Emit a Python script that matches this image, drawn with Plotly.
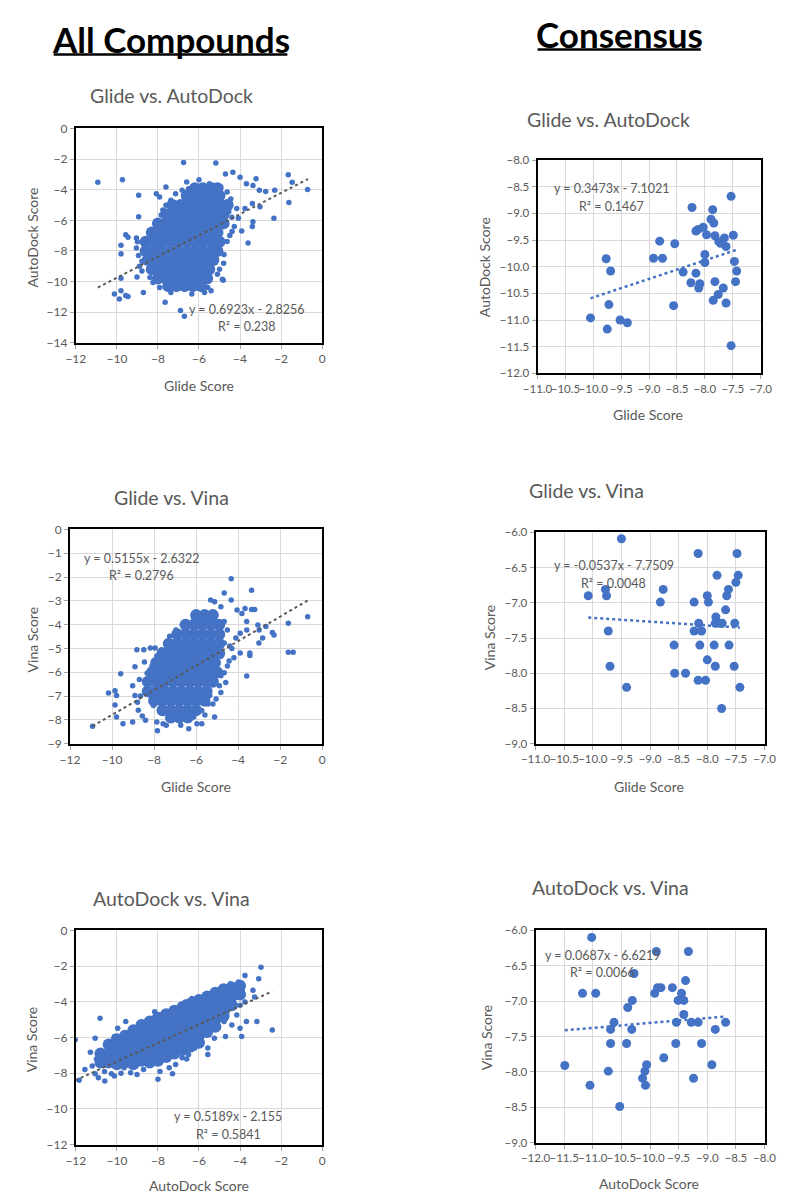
import plotly.graph_objects as go

# ---------------- DATA ----------------
# All compounds: Glide vs AutoDock -- individual (sparse) points
tl_outer = [(-10.93,-3.51),(-9.73,-3.35),(-8.94,-4.37),(-8.94,-5.76),(-9.80,-7.63),(-9.80,-8.19),
            (-9.57,-6.95),(-9.46,-7.10),(-9.05,-7.16),(-9.05,-7.81),(-9.02,-9.70),(-9.80,-9.78),
            (-10.12,-10.82),(-9.88,-11.14),(-9.80,-10.60),(-9.57,-10.92),(-9.46,-10.97),(-8.71,-10.71),
            (-7.65,-11.35),(-6.90,-11.89),(-6.71,-12.26),(-6.75,-2.22),(-5.18,-2.26),(-6.35,-4.37),
            (-7.61,-3.83),(-8.08,-4.26),(-7.92,-4.47),(-4.71,-2.97),(-4.35,-2.86),(-4.00,-3.18),
            (-3.22,-3.29),(-3.69,-3.61),(-3.37,-3.72),(-3.06,-4.04),(-2.75,-4.11),(-2.31,-4.04),
            (-1.65,-3.03),(-1.46,-3.51),(-0.71,-3.98),(-1.62,-4.84),(-2.35,-5.87),(-3.03,-5.12),
            (-3.40,-4.90),(-3.61,-7.48),(-3.40,-6.41),(-3.37,-6.09),(-3.92,-6.69),(-4.28,-6.41),
            (-4.08,-5.87),(-3.76,-5.23),(-4.16,-5.23),(-4.39,-6.73),(-4.63,-7.38),(-4.78,-8.24),
            (-4.86,-9.85),(-5.10,-9.53),(-4.82,-9.91),(-5.57,-10.39),(-5.88,-9.96),(-5.41,-10.60),
            (-5.73,-10.71),(-6.27,-10.39),(-6.35,-10.82),(-7.37,-10.71),(-7.22,-10.39),(-7.92,-10.39),
            (-8.24,-10.06),(-8.39,-9.74),(-8.78,-9.31),(-8.78,-8.67),(-8.71,-8.02),(-8.55,-7.48),
            (-8.39,-6.73),(-8.08,-6.41),(-8.00,-6.09),(-7.84,-5.66),(-7.76,-5.33),(-7.61,-5.01),
            (-7.37,-4.69),(-7.14,-4.26),(-6.82,-4.04),(-6.51,-3.94),(-5.88,-3.72),(-5.49,-3.61),
            (-5.25,-3.72),(-4.94,-3.83),(-4.63,-4.15),(-4.63,-4.80),(-4.55,-5.44),(-4.71,-6.09),
            (-9.00,-7.40),(-8.95,-8.30),(-8.90,-9.00),(-4.45,-4.60),(-4.40,-5.80),(-4.50,-7.00),
            (-6.60,-3.50),(-6.00,-3.35),(-4.80,-8.80),(-5.00,-9.20)]
# dense core, rows of (AutoDock score, Glide scores)
tl_core_rows = [(-3.9,[-6.2,-5.8,-5.4,-5.1]),
                (-4.4,[-6.6,-6.2,-5.8,-5.4,-5.0]),
                (-5.0,[-7.3,-6.9,-6.5,-6.1,-5.7,-5.3,-4.9,-4.6]),
                (-5.6,[-7.6,-7.2,-6.8,-6.4,-6.0,-5.6,-5.2,-4.8]),
                (-6.2,[-8.0,-7.6,-7.2,-6.8,-6.4,-6.0,-5.6,-5.2,-4.8]),
                (-6.8,[-8.3,-7.9,-7.5,-7.1,-6.7,-6.3,-5.9,-5.5,-5.1]),
                (-7.4,[-8.6,-8.2,-7.8,-7.4,-7.0,-6.6,-6.2,-5.8,-5.4,-5.0]),
                (-8.0,[-8.6,-8.2,-7.8,-7.4,-7.0,-6.6,-6.2,-5.8,-5.4,-5.1]),
                (-8.6,[-8.5,-8.1,-7.7,-7.3,-6.9,-6.5,-6.1,-5.7,-5.3]),
                (-9.2,[-8.3,-7.9,-7.5,-7.1,-6.7,-6.3,-5.9,-5.5]),
                (-9.8,[-8.0,-7.6,-7.2,-6.8,-6.4,-6.0,-5.6]),
                (-10.3,[-7.5,-7.1,-6.7,-6.3,-5.9])]

# All compounds: Glide vs Vina
ml_outer = [(-10.93,-8.27),(-10.17,-6.87),(-9.86,-6.78),(-9.79,-6.98),(-9.86,-7.37),(-9.79,-7.88),(-9.59,-6.06),
            (-9.48,-8.16),(-9.02,-8.09),(-9.02,-6.57),(-8.91,-5.77),(-8.82,-5.05),(-8.91,-6.98),
            (-8.79,-7.26),(-8.56,-7.84),(-8.49,-5.05),(-8.46,-5.57),(-8.33,-6.04),(-8.41,-8.02),
            (-8.18,-4.98),(-7.95,-4.98),(-7.87,-8.09),(-7.84,-8.46),(-7.57,-8.16),(-7.42,-8.23),
            (-6.35,-8.37),(-6.73,-8.23),(-5.96,-8.16),(-5.73,-8.16),(-5.58,-7.79),(-5.12,-7.88),
            (-5.20,-7.33),(-5.35,-6.98),(-4.82,-6.85),(-4.59,-6.43),(-4.66,-6.02),(-4.51,-5.74),
            (-4.43,-5.53),(-4.20,-5.39),(-3.90,-5.19),(-3.59,-6.16),(-3.44,-5.30),(-3.44,-5.19),
            (-4.11,-4.56),(-3.90,-4.36),(-3.59,-4.22),(-3.59,-3.87),(-3.82,-3.53),(-4.05,-3.39),
            (-3.67,-3.32),(-3.36,-3.36),(-3.21,-3.36),(-3.36,-2.56),(-4.33,-2.07),(-4.66,-2.67),
            (-4.33,-2.97),(-5.31,-2.97),(-5.12,-3.04),(-4.82,-3.25),(-5.43,-3.53),(-5.73,-3.73),
            (-6.12,-3.73),(-6.65,-4.01),(-6.96,-4.22),(-7.26,-4.49),(-7.42,-4.77),(-7.65,-5.05),
            (-7.87,-5.32),(-8.10,-5.74),(-8.26,-6.43),(-8.18,-6.98),(-8.03,-7.40),(-7.72,-7.54),
            (-7.26,-7.81),(-6.88,-7.95),(-6.42,-7.98),(-6.12,-7.88),(-5.73,-7.61),(-5.43,-7.33),
            (-5.05,-7.12),(-4.89,-6.57),(-4.82,-6.15),(-4.82,-5.33),(-4.66,-4.77),(-4.51,-4.22),
            (-4.66,-3.87),(-5.28,-3.73),(-3.06,-4.01),(-2.68,-4.08),(-2.37,-4.33),(-2.29,-4.43),
            (-3.01,-4.77),(-2.83,-4.56),(-1.61,-3.94),(-1.61,-5.16),(-1.38,-5.16),(-0.69,-3.67),
            (-3.00,-4.22),(-8.70,-6.30),(-8.65,-7.00),(-8.75,-7.60),(-4.40,-4.90),(-4.30,-5.00)]
ml_core_rows = [(-3.6,[-6.0,-5.6,-5.2]),
                (-4.0,[-6.5,-6.1,-5.7,-5.3,-4.9]),
                (-4.4,[-6.9,-6.5,-6.1,-5.7,-5.3,-4.9]),
                (-4.8,[-7.3,-6.9,-6.5,-6.1,-5.7,-5.3,-4.9]),
                (-5.2,[-7.6,-7.2,-6.8,-6.4,-6.0,-5.6,-5.2,-4.9]),
                (-5.6,[-7.9,-7.5,-7.1,-6.7,-6.3,-5.9,-5.5,-5.1]),
                (-6.0,[-8.1,-7.7,-7.3,-6.9,-6.5,-6.1,-5.7,-5.3,-5.0]),
                (-6.4,[-8.3,-7.9,-7.5,-7.1,-6.7,-6.3,-5.9,-5.5,-5.2]),
                (-6.8,[-8.3,-7.9,-7.5,-7.1,-6.7,-6.3,-5.9,-5.5]),
                (-7.2,[-8.0,-7.6,-7.2,-6.8,-6.4,-6.0,-5.6]),
                (-7.6,[-7.6,-7.2,-6.8,-6.4,-6.0]),
                (-7.9,[-7.2,-6.8,-6.4])]

# All compounds: AutoDock vs Vina
bl_outer = [(-12.03,-6.13),(-11.56,-7.79),(-11.84,-8.40),(-11.29,-6.83),(-11.06,-6.04),(-10.82,-4.93),
            (-11.06,-8.03),(-10.90,-8.25),(-10.59,-8.44),(-10.82,-7.33),(-10.75,-6.83),(-10.27,-8.03),
            (-10.12,-8.16),(-10.04,-7.51),(-10.27,-6.41),(-10.12,-5.94),(-9.57,-5.11),(-9.25,-5.48),
            (-9.33,-7.97),(-9.02,-8.07),(-8.55,-5.21),(-8.24,-4.93),(-8.16,-4.56),(-7.61,-4.65),
            (-7.29,-4.56),(-8.00,-8.34),(-7.45,-7.70),(-7.14,-7.51),(-7.29,-8.03),(-6.82,-7.14),
            (-6.51,-6.96),(-6.20,-6.59),(-5.57,-6.59),(-5.57,-6.96),(-5.88,-6.22),(-5.25,-6.04),
            (-4.71,-5.94),(-4.78,-5.11),(-6.67,-4.01),(-6.35,-3.82),(-5.57,-3.64),(-4.94,-3.36),
            (-4.47,-2.99),(-4.08,-2.90),(-3.76,-2.53),(-2.98,-2.07),(-3.09,-2.71),(-3.37,-3.36),
            (-3.29,-3.73),(-4.08,-3.64),(-4.00,-4.19),(-4.16,-4.74),(-4.00,-5.48),(-3.92,-5.94),
            (-3.69,-5.11),(-3.18,-5.11),(-3.76,-4.01),(-2.43,-5.58),(-4.24,-4.19),(-4.63,-4.56),
            (-4.94,-4.93),(-5.33,-5.48),(-6.04,-6.04),(-6.82,-6.41),(-7.61,-6.78),(-8.39,-7.33),
            (-9.02,-7.51),(-9.65,-7.70),(-9.96,-5.48),(-8.86,-5.30),(-8.08,-5.11),(-6.98,-4.38),
            (-6.20,-4.01),(-5.25,-3.73),(-11.00,-7.20),(-11.20,-7.60),(-10.60,-7.90),(-9.80,-8.00),
            (-8.70,-7.80),(-7.90,-7.90),(-6.60,-7.20),(-4.40,-5.30),(-3.90,-3.30)]
# dense core, columns of (AutoDock score, Vina scores)
bl_core_cols = [(-10.8,[-6.9,-7.4]),
                (-10.4,[-6.4,-6.9,-7.4]),
                (-10.0,[-6.1,-6.6,-7.1,-7.5]),
                (-9.6,[-5.9,-6.4,-6.9,-7.4]),
                (-9.2,[-5.6,-6.1,-6.6,-7.1,-7.5]),
                (-8.8,[-5.3,-5.8,-6.3,-6.8,-7.3]),
                (-8.4,[-5.1,-5.6,-6.1,-6.6,-7.1,-7.4]),
                (-8.0,[-4.9,-5.4,-5.9,-6.4,-6.9,-7.3]),
                (-7.6,[-4.7,-5.2,-5.7,-6.2,-6.7,-7.1]),
                (-7.2,[-4.5,-5.0,-5.5,-6.0,-6.5,-6.9]),
                (-6.8,[-4.3,-4.8,-5.3,-5.8,-6.3,-6.7]),
                (-6.4,[-4.1,-4.6,-5.1,-5.6,-6.1,-6.5]),
                (-6.0,[-3.9,-4.4,-4.9,-5.4,-5.9,-6.3]),
                (-5.6,[-3.7,-4.2,-4.7,-5.2,-5.7]),
                (-5.2,[-3.5,-4.0,-4.5,-5.0,-5.4]),
                (-4.8,[-3.3,-3.8,-4.3,-4.8]),
                (-4.4,[-3.2,-3.7,-4.2]),
                (-4.0,[-3.1,-3.6])]

# Consensus: Glide vs AutoDock
tr_pts = [(-10.05,-10.96),(-9.77,-9.85),(-9.69,-10.08),(-9.72,-10.71),(-9.75,-11.17),(-9.52,-11.00),
          (-9.39,-11.05),(-8.92,-9.84),(-8.81,-9.52),(-8.76,-9.84),(-8.54,-9.57),(-8.56,-10.73),
          (-8.39,-10.10),(-8.23,-8.89),(-8.25,-10.30),(-8.16,-9.33),(-8.12,-9.30),(-8.16,-10.12),
          (-8.09,-10.32),(-8.11,-10.40),(-8.03,-9.26),(-7.97,-9.40),(-8.00,-9.77),(-8.00,-9.92),
          (-7.86,-8.93),(-7.89,-9.11),(-7.84,-9.18),(-7.82,-9.42),(-7.75,-9.53),(-7.72,-9.56),
          (-7.65,-9.46),(-7.62,-9.62),(-7.82,-10.28),(-7.85,-10.63),(-7.76,-10.52),(-7.67,-10.40),
          (-7.62,-10.68),(-7.53,-8.68),(-7.49,-9.41),(-7.47,-9.90),(-7.43,-10.08),(-7.45,-10.28),
          (-7.53,-11.48)]
# Consensus: Glide vs Vina
mr_pts = [(-10.08,-6.90),(-9.78,-6.81),(-9.76,-6.90),(-9.73,-7.40),(-9.70,-7.90),(-9.50,-6.09),
          (-9.41,-8.20),(-8.82,-6.99),(-8.77,-6.81),(-8.58,-7.60),(-8.57,-8.00),(-8.38,-8.00),
          (-8.23,-6.99),(-8.23,-7.40),(-8.16,-6.30),(-8.15,-7.29),(-8.13,-7.60),(-8.10,-7.40),
          (-8.16,-8.10),(-8.03,-8.10),(-8.00,-6.90),(-7.98,-6.99),(-8.00,-7.81),(-7.83,-6.61),
          (-7.85,-7.20),(-7.86,-7.29),(-7.88,-7.60),(-7.86,-7.90),(-7.74,-7.29),(-7.80,-7.29),
          (-7.75,-8.50),(-7.68,-7.10),(-7.66,-6.90),(-7.63,-6.81),(-7.62,-7.60),(-7.53,-7.90),
          (-7.52,-7.29),(-7.50,-6.71),(-7.48,-6.30),(-7.46,-6.61),(-7.43,-8.20)]
# Consensus: AutoDock vs Vina
br_pts = [(-11.49,-7.91),(-11.18,-6.89),(-11.05,-8.19),(-11.02,-6.10),(-10.95,-6.89),(-10.73,-7.99),
          (-10.69,-7.40),(-10.69,-7.60),(-10.63,-7.30),(-10.53,-8.49),(-10.41,-7.60),(-10.39,-7.09),
          (-10.32,-7.40),(-10.31,-6.99),(-10.28,-6.61),(-10.13,-8.09),(-10.09,-7.99),(-10.08,-8.19),
          (-10.06,-7.90),(-9.92,-6.89),(-9.89,-6.30),(-9.87,-6.81),(-9.81,-6.81),(-9.76,-7.80),
          (-9.61,-6.81),(-9.55,-7.60),(-9.54,-7.30),(-9.51,-6.99),(-9.45,-6.89),(-9.41,-6.99),
          (-9.41,-7.19),(-9.38,-6.71),(-9.33,-6.30),(-9.28,-7.30),(-9.24,-8.09),(-9.16,-7.30),
          (-9.10,-7.60),(-8.92,-7.90),(-8.86,-7.40),(-8.68,-7.30)]

# trendline coefficients (slope, intercept, R^2) as printed on the chart
trend_slope = [0.6923, 0.5155, 0.5189, 0.3473, -0.0537, 0.0687]
trend_icpt = [-2.8256, -2.6322, -2.155, -7.1021, -7.7509, -6.6219]
trend_r2 = ["0.238", "0.2796", "0.5841", "0.1467", "0.0048", "0.0066"]

titles = ["Glide vs. AutoDock", "Glide vs. Vina", "AutoDock vs. Vina",
          "Glide vs. AutoDock", "Glide vs. Vina", "AutoDock vs. Vina"]
x_titles = ["Glide Score", "Glide Score", "AutoDock Score", "Glide Score", "Glide Score", "AutoDock Score"]
y_titles = ["AutoDock Score", "Vina Score", "Vina Score", "AutoDock Score", "Vina Score", "Vina Score"]
headers = ["All Compounds", "Consensus"]

# ---------------- helpers ----------------
def unzip(pairs):
    return [p[0] for p in pairs], [p[1] for p in pairs]

def rows_to_xy(rows):
    xs, ys = [], []
    for yv, xl in rows:
        for xv in xl:
            xs.append(xv); ys.append(yv)
    return xs, ys

def cols_to_xy(cols):
    xs, ys = [], []
    for xv, yl in cols:
        for yv in yl:
            xs.append(xv); ys.append(yv)
    return xs, ys

W, H = 791, 1200
BLUE = '#4472C4'
GREY = '#595959'
GRIDC = '#D9D9D9'
FONT = 'Lato, Carlito, Calibri, sans-serif'

# layout: pixel boxes (x0, x1, y0, y1), axis setup
panels = [
    dict(box=(63, 318, 122, 339), xr=[-12, 0], xd=2, yr=[-14, 0], yd=2, fmt='', ts=12),
    dict(box=(57, 318, 528, 745), xr=[-12, 0], xd=2, yr=[-9, 0], yd=1, fmt='', ts=12),
    dict(box=(63, 318, 934, 1151), xr=[-12, 0], xd=2, yr=[-12, 0], yd=2, fmt='', ts=12),
    dict(box=(541, 772, 154, 370), xr=[-11, -7], xd=0.5, yr=[-12, -8], yd=0.5, fmt='.1f', ts=11.5),
    dict(box=(539, 776, 531, 745), xr=[-11, -7], xd=0.5, yr=[-9, -6], yd=0.5, fmt='.1f', ts=11.5),
    dict(box=(539, 776, 934, 1149), xr=[-12, -8], xd=0.5, yr=[-9, -6], yd=0.5, fmt='.1f', ts=11.5),
]
title_pos = [(162, 89), (162, 496), (162, 902), (614, 113), (592, 489), (617, 891)]
xt_pos = [(190, 382), (187, 788), (191, 1192), (655, 412), (656, 788), (656, 1190)]
yt_pos = [(18, 232), (18, 640), (18, 1045), (486, 262), (491, 638), (489, 1043)]
eq_pos = [(240, 305, 323), (131, 557, 575), (221, 1123, 1141),
          (618, 183, 201), (620, 565, 583), (608, 959, 977)]

fig = go.Figure()

tl_ox, tl_oy = unzip(tl_outer); tl_cx, tl_cy = rows_to_xy(tl_core_rows)
ml_ox, ml_oy = unzip(ml_outer); ml_cx, ml_cy = rows_to_xy(ml_core_rows)
bl_ox, bl_oy = unzip(bl_outer); bl_cx, bl_cy = cols_to_xy(bl_core_cols)
left_sets = [(tl_ox, tl_oy, tl_cx, tl_cy), (ml_ox, ml_oy, ml_cx, ml_cy), (bl_ox, bl_oy, bl_cx, bl_cy)]
right_sets = [unzip(tr_pts), unzip(mr_pts), unzip(br_pts)]

all_glide = tl_ox + tl_cx + ml_ox + ml_cx

for i in range(6):
    k = i + 1
    xa = 'x' if k == 1 else f'x{k}'
    ya = 'y' if k == 1 else f'y{k}'
    if i < 3:
        ox, oy, cx, cy = left_sets[i]
        fig.add_trace(go.Scatter(x=cx, y=cy, mode='markers', xaxis=xa, yaxis=ya,
                                 marker=dict(color=BLUE, size=12, line=dict(width=0)),
                                 showlegend=False, hoverinfo='skip'))
        fig.add_trace(go.Scatter(x=ox, y=oy, mode='markers', xaxis=xa, yaxis=ya,
                                 marker=dict(color=BLUE, size=5.5, line=dict(width=0)),
                                 showlegend=False))
        xs_all = ox + cx
        if i in (0, 1):
            xs_all = all_glide
        lcol, lw = GREY, 2
    else:
        px, py = right_sets[i - 3]
        fig.add_trace(go.Scatter(x=px, y=py, mode='markers', xaxis=xa, yaxis=ya,
                                 marker=dict(color=BLUE, size=9, line=dict(width=0)),
                                 showlegend=False))
        xs_all = px
        lcol, lw = BLUE, 2.5
    x0, x1 = min(xs_all), max(xs_all)
    fig.add_trace(go.Scatter(x=[x0, x1],
                             y=[trend_slope[i] * x0 + trend_icpt[i], trend_slope[i] * x1 + trend_icpt[i]],
                             mode='lines', xaxis=xa, yaxis=ya,
                             line=dict(color=lcol, width=lw, dash='dot'),
                             showlegend=False, hoverinfo='skip'))

layout = dict(width=W, height=H, margin=dict(l=0, r=0, t=0, b=0),
              paper_bgcolor='white', plot_bgcolor='white', showlegend=False,
              font=dict(family=FONT, color=GREY, size=12))
for i, p in enumerate(panels):
    k = i + 1
    x0, x1, y0, y1 = p['box']
    axcommon = dict(showgrid=True, gridcolor=GRIDC, gridwidth=1, zeroline=False,
                    showline=True, linecolor='black', linewidth=2, mirror=True,
                    ticks='outside', ticklen=4, tickcolor='#A6A6A6', tickangle=0,
                    tickfont=dict(family=FONT, size=p['ts'], color=GREY), fixedrange=True)
    layout['xaxis' if k == 1 else f'xaxis{k}'] = dict(
        axcommon, domain=[x0 / W, x1 / W], range=p['xr'], dtick=p['xd'], tick0=0,
        tickformat=p['fmt'], anchor='y' if k == 1 else f'y{k}')
    layout['yaxis' if k == 1 else f'yaxis{k}'] = dict(
        axcommon, domain=[1 - y1 / H, 1 - y0 / H], range=p['yr'], dtick=p['yd'], tick0=0,
        tickformat=p['fmt'], anchor='x' if k == 1 else f'x{k}')
fig.update_layout(**layout)

def ann(text, x, y, size, color=GREY, angle=0, bold=False):
    fig.add_annotation(text=(f'<b>{text}</b>' if bold else text), x=x / W, y=1 - y / H,
                       xref='paper', yref='paper', showarrow=False, textangle=angle,
                       xanchor='center', yanchor='middle',
                       font=dict(family=FONT, size=size, color=color))

for i in range(6):
    ann(titles[i], *title_pos[i], 19.5)
    ann(x_titles[i], *xt_pos[i], 14)
    ann(y_titles[i], *yt_pos[i], 14, angle=-90)
    sgn = '-' if trend_icpt[i] < 0 else '+'
    ssgn = '-' if trend_slope[i] < 0 else ''
    eq = f"y = {ssgn}{abs(trend_slope[i]):.4f}x {sgn} {abs(trend_icpt[i]):g}"
    ex, ey1, ey2 = eq_pos[i]
    ann(eq, ex, ey1, 12.5)
    ann(f"R² = {trend_r2[i]}", ex, ey2, 12.5)

# headers with underline
ann(headers[0], 161, 31, 35, color='black', bold=True)
ann(headers[1], 626, 26, 35, color='black', bold=True)
fig.add_shape(type='line', xref='paper', yref='paper', x0=40 / W, x1=282 / W,
              y0=1 - 47 / H, y1=1 - 47 / H, line=dict(color='black', width=2.5))
fig.add_shape(type='line', xref='paper', yref='paper', x0=541 / W, x1=710 / W,
              y0=1 - 42 / H, y1=1 - 42 / H, line=dict(color='black', width=2.5))

fig.write_html("out.html")
